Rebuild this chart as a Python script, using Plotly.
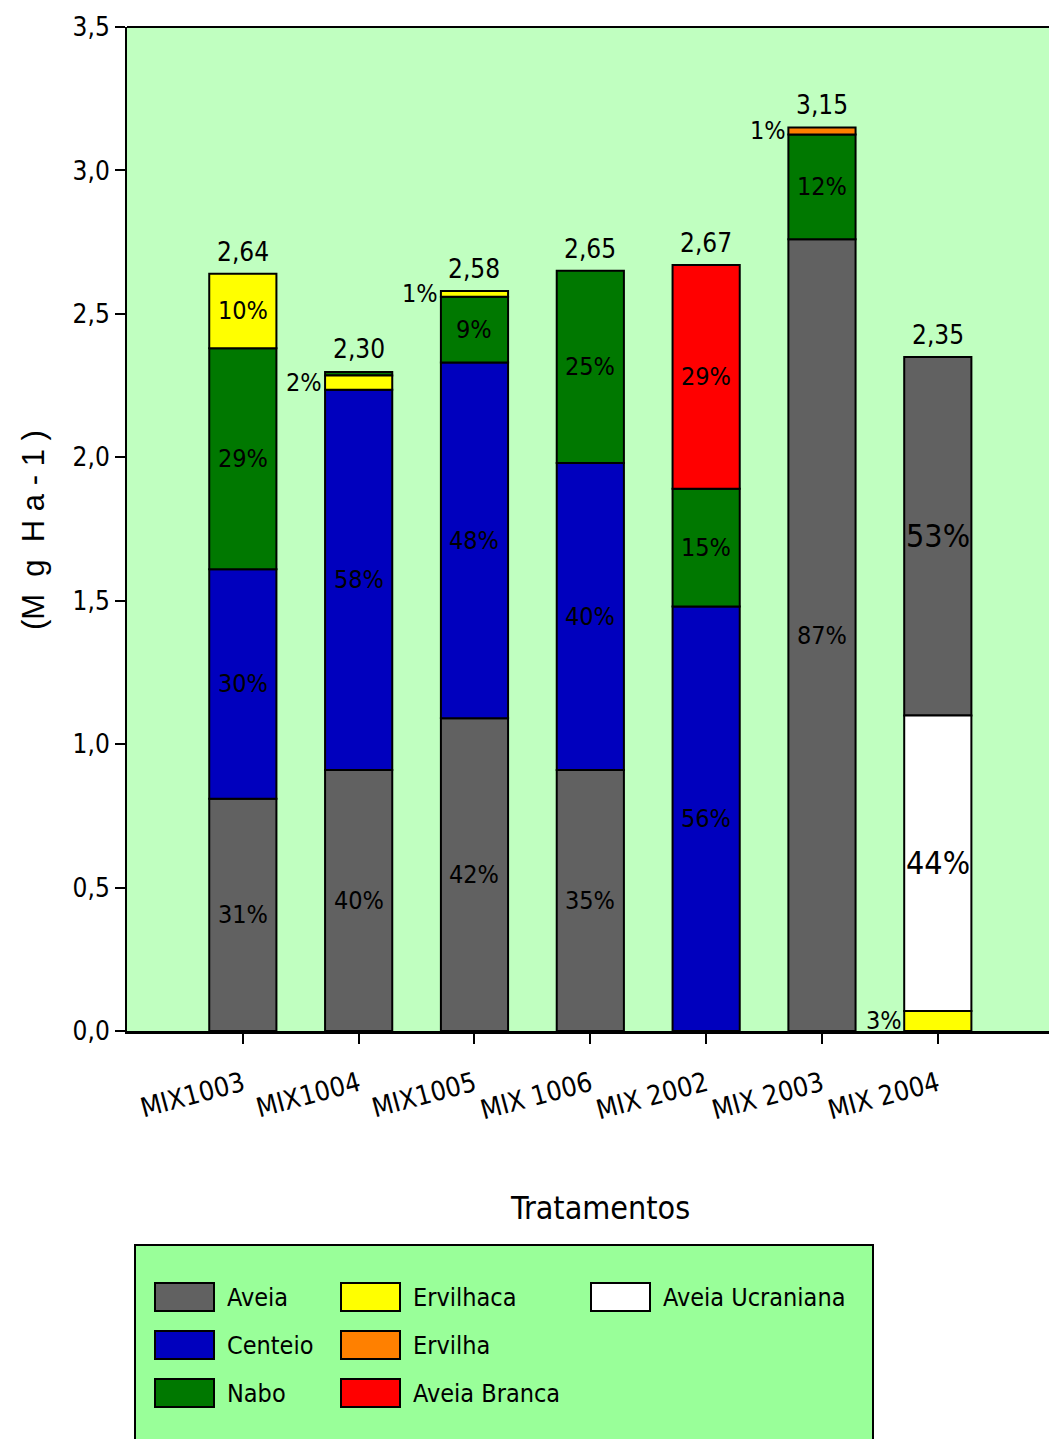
import plotly.graph_objects as go

# ---------------- data ----------------
categories = ["MIX1003", "MIX1004", "MIX1005", "MIX 1006", "MIX 2002", "MIX 2003", "MIX 2004"]
species = ["Aveia", "Centeio", "Nabo", "Ervilhaca", "Ervilha", "Aveia Branca", "Aveia Ucraniana"]
colors = ["#616161", "#0000BE", "#007800", "#FFFF00", "#FF8000", "#FF0000", "#FFFFFF"]

aveia = [0.81, 0.91, 1.09, 0.91, 0.0, 2.76, 1.25]
centeio = [0.80, 1.325, 1.24, 1.07, 1.48, 0.0, 0.0]
nabo = [0.77, 0.012, 0.23, 0.67, 0.41, 0.365, 0.0]
ervilhaca = [0.26, 0.05, 0.02, 0.0, 0.0, 0.0, 0.07]
ervilha = [0.0, 0.0, 0.0, 0.0, 0.0, 0.025, 0.0]
aveia_branca = [0.0, 0.0, 0.0, 0.0, 0.78, 0.0, 0.0]
aveia_ucraniana = [0.0, 0.0, 0.0, 0.0, 0.0, 0.0, 1.03]

totals = [2.64, 2.30, 2.58, 2.65, 2.67, 3.15, 2.35]

pct_aveia = [31, 40, 42, 35, None, 87, 53]
pct_centeio = [30, 58, 48, 40, 56, None, None]
pct_nabo = [29, None, 9, 25, 15, 12, None]
pct_ervilhaca = [10, 2, 1, None, None, None, 3]
pct_ervilha = [None, None, None, None, None, 1, None]
pct_aveia_branca = [None, None, None, None, 29, None, None]
pct_aveia_ucraniana = [None, None, None, None, None, None, 44]

# bottom -> top stacking order of each bar
stack_order = [
    ["Aveia", "Centeio", "Nabo", "Ervilhaca"],
    ["Aveia", "Centeio", "Ervilhaca", "Nabo"],
    ["Aveia", "Centeio", "Nabo", "Ervilhaca"],
    ["Aveia", "Centeio", "Nabo"],
    ["Centeio", "Nabo", "Aveia Branca"],
    ["Aveia", "Nabo", "Ervilha"],
    ["Ervilhaca", "Aveia Ucraniana", "Aveia"],
]

values = dict(zip(species, [aveia, centeio, nabo, ervilhaca, ervilha, aveia_branca, aveia_ucraniana]))
pcts = dict(zip(species, [pct_aveia, pct_centeio, pct_nabo, pct_ervilhaca, pct_ervilha,
                          pct_aveia_branca, pct_aveia_ucraniana]))
color_of = dict(zip(species, colors))

# compute bases
bases = {s: [None] * len(categories) for s in species}
for i, order in enumerate(stack_order):
    acc = 0.0
    for s in order:
        bases[s][i] = acc
        acc += values[s][i]

# ---------------- layout geometry ----------------
W, H = 1049, 1439
L, R, T, B = 127, 0, 27, 408
PW, PH = W - L - R, H - T - B
NARROW = "Liberation Sans Narrow, Arial Narrow, DejaVu Sans Condensed, sans-serif"


def px(x):
    return (x - L) / PW


def py(y):
    return (H - B - y) / PH


BAR_W = 0.58

fig = go.Figure()
for s in species:
    ys, bs, xs = [], [], []
    for i, c in enumerate(categories):
        v = values[s][i]
        if v > 0:
            xs.append(c)
            ys.append(v)
            bs.append(bases[s][i])
    fig.add_trace(go.Bar(
        x=xs, y=ys, base=bs, name=s, width=BAR_W,
        marker=dict(color=color_of[s], line=dict(color="black", width=2)),
        showlegend=False, hoverinfo="x+y+name",
    ))

annotations = []
# percentage labels
for s in species:
    for i, c in enumerate(categories):
        p = pcts[s][i]
        if p is None:
            continue
        v = values[s][i]
        yc = bases[s][i] + v / 2
        big = c == "MIX 2004" and v > 0.5
        if v < 0.1:
            annotations.append(dict(x=i - BAR_W / 2 - 0.005, y=yc, xref="x", yref="y",
                                    text=f"{p}%", showarrow=False, xanchor="right", yanchor="middle",
                                    font=dict(family=NARROW, size=25, color="black")))
        else:
            annotations.append(dict(x=i, y=yc, xref="x", yref="y",
                                    text=f"{p}%", showarrow=False, xanchor="center", yanchor="middle",
                                    font=dict(family=NARROW, size=32 if big else 25, color="black")))

# totals
for i, c in enumerate(categories):
    annotations.append(dict(x=i, y=totals[i], xref="x", yref="y",
                            text=f"{totals[i]:.2f}".replace(".", ","), showarrow=False,
                            xanchor="center", yanchor="bottom", yshift=5,
                            font=dict(family=NARROW, size=26, color="black")))

# axis titles
annotations.append(dict(x=px(600), y=py(1208), xref="paper", yref="paper", text="Tratamentos",
                        showarrow=False, xanchor="center", yanchor="middle",
                        font=dict(family=NARROW, size=32, color="black")))
annotations.append(dict(x=px(33), y=py(530), xref="paper", yref="paper", text="(M  g  H a - 1 )",
                        showarrow=False, xanchor="center", yanchor="middle", textangle=-90,
                        font=dict(family="Liberation Sans, Arial, sans-serif", size=31, color="black")))

shapes = []
# top frame line
shapes.append(dict(type="line", xref="paper", yref="paper", x0=0, x1=1, y0=1, y1=1,
                   line=dict(color="black", width=2)))

# manual legend
shapes.append(dict(type="rect", xref="paper", yref="paper", x0=px(135), x1=px(873),
                   y0=py(1245), y1=py(1460), fillcolor="#99FF99", line=dict(color="black", width=2),
                   layer="above"))
legend_cols = [[0, 1, 2], [3, 4, 5], [6]]
col_x = [155, 341, 591]
row_y = [1297, 1345, 1393]
for ci, col in enumerate(legend_cols):
    for ri, si in enumerate(col):
        s = species[si]
        x0 = col_x[ci]
        yc = row_y[ri]
        shapes.append(dict(type="rect", xref="paper", yref="paper",
                           x0=px(x0), x1=px(x0 + 59), y0=py(yc + 14), y1=py(yc - 14),
                           fillcolor=color_of[s], line=dict(color="black", width=2), layer="above"))
        annotations.append(dict(x=px(x0 + 70), y=py(yc), xref="paper", yref="paper", text=s,
                                showarrow=False, xanchor="left", yanchor="middle",
                                font=dict(family=NARROW, size=25, color="black")))

fig.update_layout(
    width=W, height=H,
    margin=dict(l=L, r=R, t=T, b=B, pad=0),
    paper_bgcolor="white", plot_bgcolor="#C0FFC0",
    separators=",.",
    barmode="overlay",
    showlegend=False,
    annotations=annotations,
    shapes=shapes,
    xaxis=dict(
        type="category", categoryorder="array", categoryarray=categories,
        range=[-1, 6.96], showline=True, linecolor="black", linewidth=3,
        ticks="outside", ticklen=10, tickwidth=2, tickcolor="black",
        tickangle=-15, tickfont=dict(family=NARROW, size=27, color="black"),
        ticklabelstandoff=14,
        showgrid=False, zeroline=False,
    ),
    yaxis=dict(
        range=[0, 3.5], dtick=0.5, tick0=0, tickformat=".1f",
        showline=True, linecolor="black", linewidth=2,
        ticks="outside", ticklen=10, tickwidth=2, tickcolor="black",
        tickfont=dict(family=NARROW, size=26, color="black"),
        showgrid=False, zeroline=False,
    ),
)

fig.write_html("out.html")
